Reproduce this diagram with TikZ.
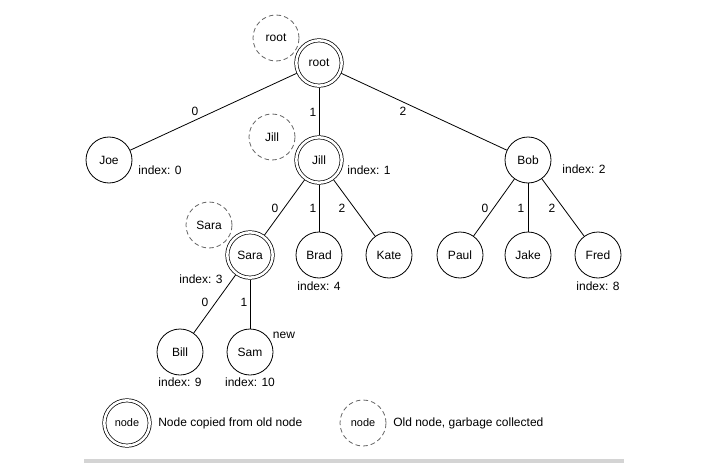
\documentclass[tikz,border=0pt]{standalone}
\usepackage{fontspec}
\setmainfont{Liberation Sans}
\begin{document}
\begin{tikzpicture}[x=0.75pt,y=-0.75pt,
  every node/.style={font=\fontsize{9pt}{10pt}\selectfont, inner sep=0pt},
  plainnode/.style={circle, draw, line width=0.6pt, minimum size=34.5pt},
  copynode/.style={circle, draw, line width=0.55pt, double, double distance=1.9pt, minimum size=34pt, outer sep=1.5pt},
  oldnode/.style={circle, draw=black!60, dash pattern=on 3.5pt off 2.3pt, line width=0.6pt, minimum size=34.5pt},
  edge/.style={line width=0.6pt},
  lbl/.style={font=\fontsize{9pt}{10pt}\selectfont}
]
\useasboundingbox (0,0) rectangle (721,467);
\fill[white] (0,0) rectangle (721,467);

% old (garbage) nodes
\node[oldnode] (oroot) at (276,38) {root};
\node[oldnode] (ojill) at (272,137) {Jill};
\node[oldnode] (osara) at (209,225) {Sara};

% tree nodes
\node[copynode] (root) at (319,63) {root};
\node[plainnode] (joe) at (109,160) {Joe};
\node[copynode] (jill) at (319,160) {Jill};
\node[plainnode] (bob) at (528,160) {Bob};
\node[copynode] (sara) at (250,255) {Sara};
\node[plainnode] (brad) at (319,255) {Brad};
\node[plainnode] (kate) at (389,255) {Kate};
\node[plainnode] (paul) at (460,255) {Paul};
\node[plainnode] (jake) at (528,255) {Jake};
\node[plainnode] (fred) at (598,255) {Fred};
\node[plainnode] (bill) at (180,352) {Bill};
\node[plainnode] (sam) at (250,352) {Sam};

% edges
\draw[edge] (root) -- (joe);
\draw[edge] (root) -- (jill);
\draw[edge] (root) -- (bob);
\draw[edge] (jill) -- (sara);
\draw[edge] (jill) -- (brad);
\draw[edge] (jill) -- (kate);
\draw[edge] (bob) -- (paul);
\draw[edge] (bob) -- (jake);
\draw[edge] (bob) -- (fred);
\draw[edge] (sara) -- (bill);
\draw[edge] (sara) -- (sam);

% edge labels
\node[lbl] (e1) at (195,111) {0};
\node[lbl] (e2) at (313,112) {1};
\node[lbl] (e3) at (403,111) {2};
\node[lbl] (e4) at (275,208) {0};
\node[lbl] (e5) at (313,208) {1};
\node[lbl] (e6) at (342,208) {2};
\node[lbl] (e7) at (485,208) {0};
\node[lbl] (e8) at (521,208) {1};
\node[lbl] (e9) at (552,208) {2};
\node[lbl] (e10) at (205,302) {0};
\node[lbl] (e11) at (244,302) {1};

% index labels
\node[lbl] (i0) at (160,170) {index: 0};
\node[lbl] (i1) at (369,170) {index: 1};
\node[lbl] (i2) at (584,169) {index: 2};
\node[lbl] (i3) at (201,279) {index: 3};
\node[lbl] (i4) at (319,286) {index: 4};
\node[lbl] (i8) at (598,286) {index: 8};
\node[lbl] (i9) at (180,382) {index: 9};
\node[lbl] (i10) at (250,382) {index: 10};
\node[lbl] (new) at (284,335) {new};

% legend
\node[copynode, font=\fontsize{8.2pt}{9pt}\selectfont] (lcopy) at (127,423) {node};
\node[lbl, anchor=west] (lcopyt) at (158,423) {Node copied from old node};
\node[oldnode, font=\fontsize{8.2pt}{9pt}\selectfont] (lold) at (363,423) {node};
\node[lbl, anchor=west] (loldt) at (393,423) {Old node, garbage collected};

% bottom bar
\fill[black!17] (84,459) rectangle (624,463);
\end{tikzpicture}
\end{document}
